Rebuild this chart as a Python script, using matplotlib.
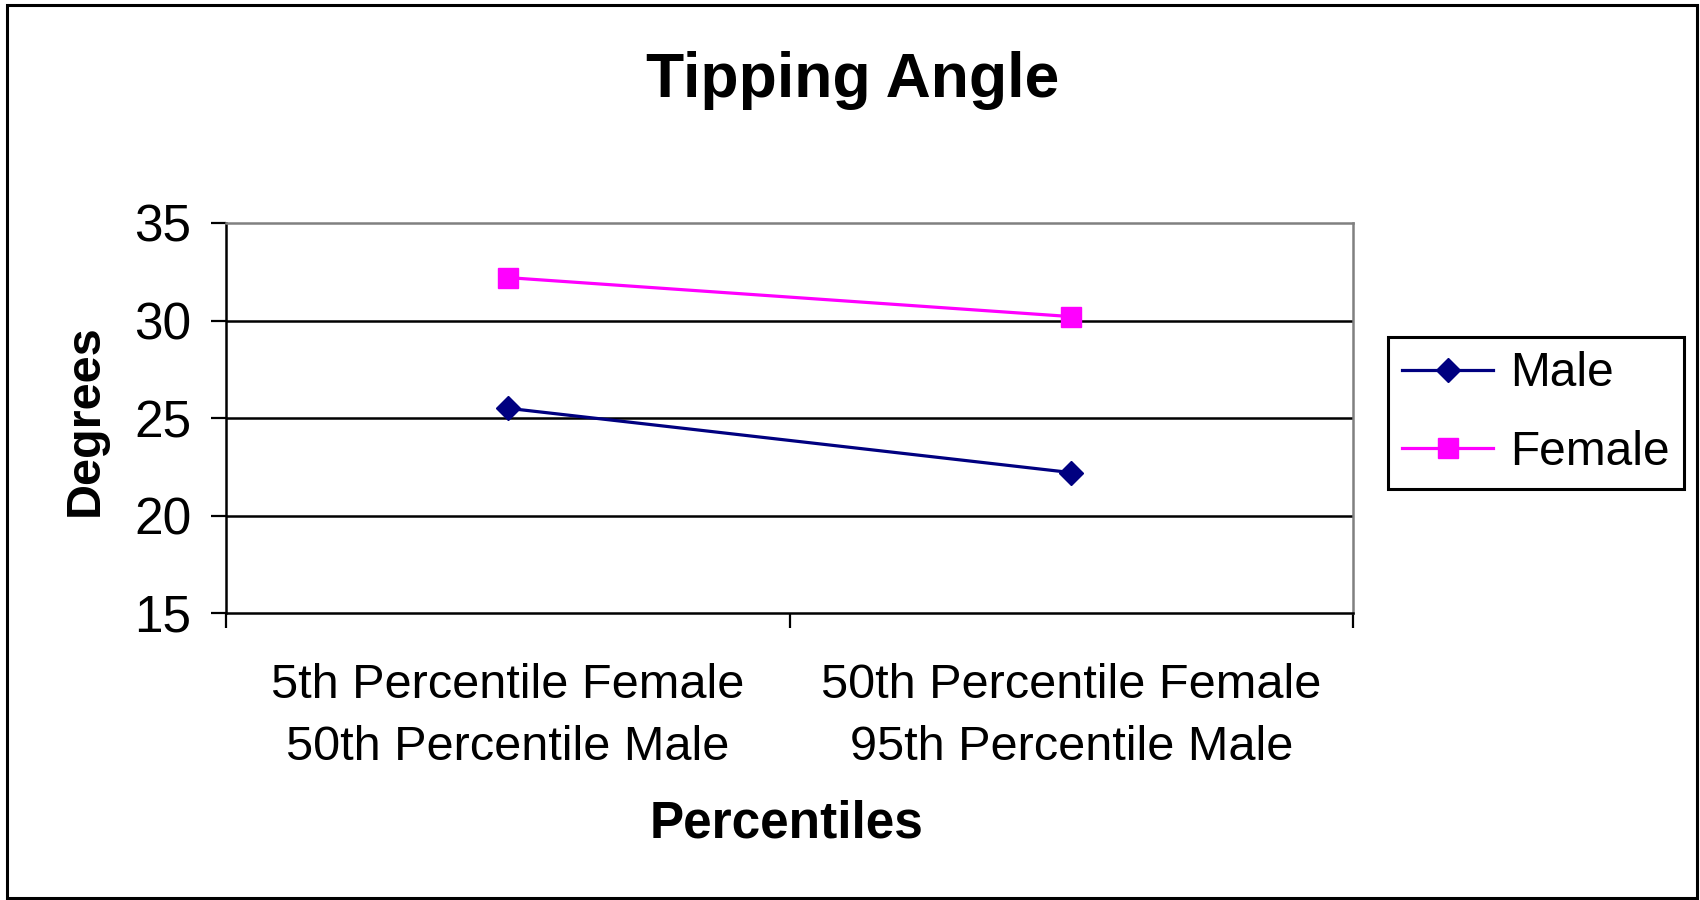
import matplotlib
matplotlib.use("Agg")
import matplotlib.pyplot as plt
from matplotlib.patches import Rectangle

plt.rcParams['font.family'] = ['Liberation Sans', 'DejaVu Sans']

# data
categories = ["5th Percentile Female\n50th Percentile Male",
              "50th Percentile Female\n95th Percentile Male"]
male = [25.5, 22.2]
female = [32.2, 30.2]

W, H = 1700, 900
fig = plt.figure(figsize=(17, 9), dpi=100)

# outer chart border
fig.patches.append(Rectangle((7 / W, 1 - 898 / H), (1697 - 7) / W, (898 - 5) / H,
                             transform=fig.transFigure, fill=False,
                             edgecolor="black", linewidth=2.2))

ax = fig.add_axes([226 / W, 1 - 613 / H, (1353 - 226) / W, (613 - 223) / H])

xs = [i + 0.5 for i in range(len(categories))]
ax.plot(xs, male, color="#000080", lw=2.3, marker="D", markersize=12.5,
        label="Male", zorder=3)
ax.plot(xs, female, color="#FF00FF", lw=2.3, marker="s", markersize=14.5,
        label="Female", zorder=3)

ax.set_xlim(0, len(categories))
ax.set_ylim(15, 35)
ax.set_yticks([15, 20, 25, 30, 35])
ax.set_xticks(range(len(categories) + 1))
ax.set_xticklabels([])
ax.set_xticks(xs, minor=True)
ax.set_xticklabels(categories, minor=True, fontsize=35, linespacing=1.5)
ax.tick_params(axis="x", which="minor", length=0, pad=36)
ax.tick_params(axis="x", which="major", length=11, width=1.6, direction="out")
ax.tick_params(axis="y", length=11, width=1.6, direction="out", labelsize=37, pad=14)

for y in [20, 25, 30]:
    ax.axhline(y, color="black", lw=1.8, zorder=1)

ax.spines["left"].set_linewidth(1.8)
ax.spines["bottom"].set_linewidth(1.8)
ax.spines["top"].set_color("#808080")
ax.spines["right"].set_color("#808080")
ax.spines["top"].set_linewidth(1.8)
ax.spines["right"].set_linewidth(1.8)

fig.text(853 / W, 1 - 80 / H, "Tipping Angle", fontsize=45, fontweight="bold",
         ha="center", va="center")
fig.text(85 / W, 1 - 420 / H, "Degrees", fontsize=35, fontweight="bold",
         ha="center", va="center", rotation=90)
fig.text(787 / W, 1 - 824 / H, "Percentiles", fontsize=37, fontweight="bold",
         ha="center", va="center")

leg = fig.legend(loc="upper left", bbox_to_anchor=(1388 / W, 1 - 337 / H),
                 fontsize=34.5, handlelength=1.9, handletextpad=0.35,
                 labelspacing=0.7, borderpad=0.3, borderaxespad=0,
                 fancybox=False, framealpha=1, edgecolor="black")
leg.get_frame().set_linewidth(2.2)

fig.savefig("out.png", dpi=100)
